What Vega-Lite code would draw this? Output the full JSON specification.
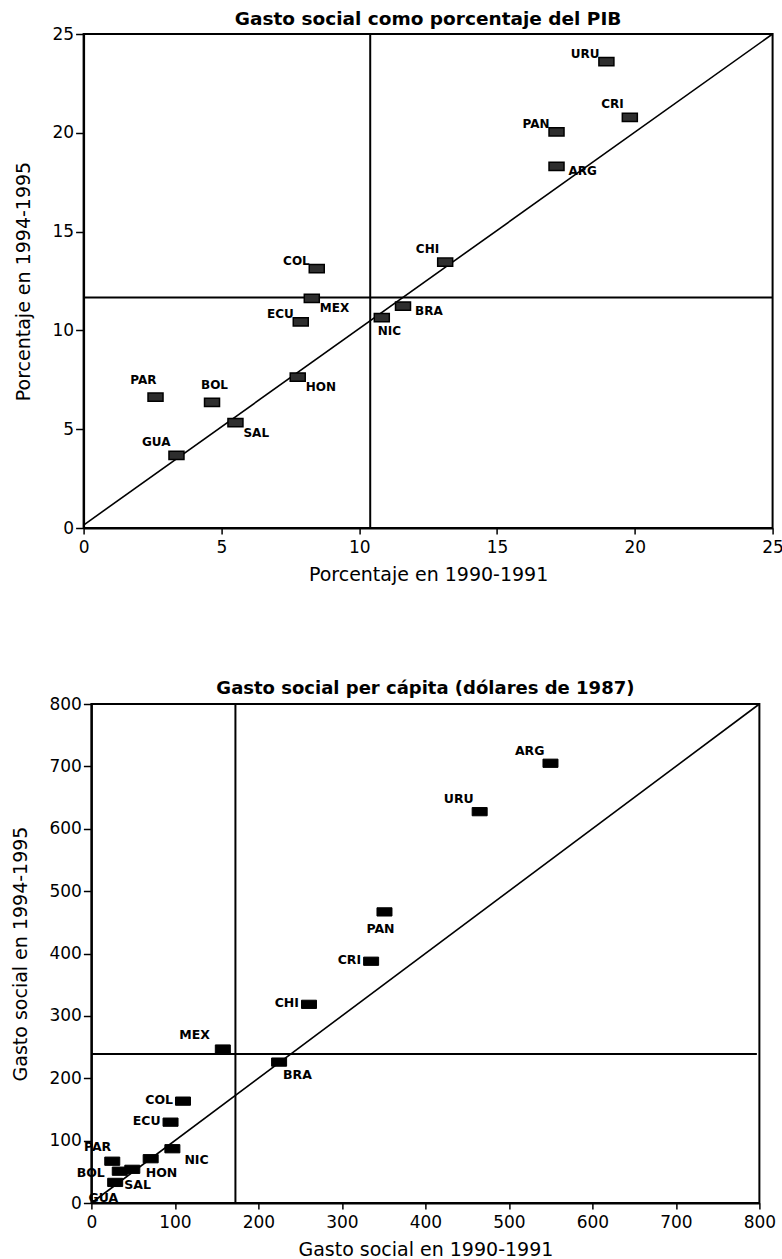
{
  "$schema": "https://vega.github.io/schema/vega-lite/v6.json",
  "padding": {"left": 10.5, "top": 8, "right": 5, "bottom": 5},
  "spacing": 94,
  "center": true,
  "datasets": {
    "top": [
      {"c": "URU", "x": 18.97, "y": 23.6},
      {"c": "CRI", "x": 19.82, "y": 20.78},
      {"c": "PAN", "x": 17.16, "y": 20.05},
      {"c": "ARG", "x": 17.16, "y": 18.3},
      {"c": "CHI", "x": 13.12, "y": 13.45},
      {"c": "COL", "x": 8.46, "y": 13.13},
      {"c": "MEX", "x": 8.28, "y": 11.62},
      {"c": "ECU", "x": 7.88, "y": 10.43},
      {"c": "NIC", "x": 10.82, "y": 10.65},
      {"c": "BRA", "x": 11.59, "y": 11.23},
      {"c": "HON", "x": 7.77, "y": 7.64},
      {"c": "PAR", "x": 2.61, "y": 6.62},
      {"c": "BOL", "x": 4.66, "y": 6.36},
      {"c": "SAL", "x": 5.51, "y": 5.33},
      {"c": "GUA", "x": 3.37, "y": 3.68}
    ],
    "bottom": [
      {"c": "ARG", "x": 549.8, "y": 705},
      {"c": "URU", "x": 465, "y": 627.4},
      {"c": "PAN", "x": 351, "y": 466.7},
      {"c": "CRI", "x": 335, "y": 387.6},
      {"c": "CHI", "x": 260.6, "y": 318.5},
      {"c": "MEX", "x": 157.4, "y": 246.8},
      {"c": "BRA", "x": 224.8, "y": 225.9},
      {"c": "COL", "x": 109.7, "y": 163.3},
      {"c": "ECU", "x": 94.8, "y": 129.6},
      {"c": "NIC", "x": 97, "y": 87},
      {"c": "HON", "x": 71, "y": 71},
      {"c": "PAR", "x": 25, "y": 67},
      {"c": "BOL", "x": 34, "y": 51},
      {"c": "SAL", "x": 49, "y": 54},
      {"c": "GUA", "x": 28.5, "y": 33}
    ]
  },
  "vconcat": [
    {
      "width": 689,
      "height": 494,
      "title": {"text": "Gasto social como porcentaje del PIB", "fontSize": 18.5},
      "layer": [
        {
          "data": {"values": [{"x": 10.4}]},
          "mark": {"type": "rule", "color": "black", "strokeWidth": 2},
          "encoding": {
            "x": {"field": "x", "type": "quantitative", "scale": {"domain": [0, 25], "nice": false}, "axis": {"values": [0, 5, 10, 15, 20, 25], "title": "Porcentaje en 1990-1991"}}
          }
        },
        {
          "data": {"values": [{"y": 11.66}]},
          "mark": {"type": "rule", "color": "black", "strokeWidth": 2},
          "encoding": {
            "y": {"field": "y", "type": "quantitative", "scale": {"domain": [0, 25], "nice": false}, "axis": {"values": [0, 5, 10, 15, 20, 25], "title": "Porcentaje en 1994-1995"}}
          }
        },
        {
          "data": {"values": [{"x": 0, "y": 0.15}, {"x": 25, "y": 25}]},
          "mark": {"type": "line", "color": "black", "strokeWidth": 1.6},
          "encoding": {
            "x": {"field": "x", "type": "quantitative", "scale": {"domain": [0, 25], "nice": false}, "axis": {"values": [0, 5, 10, 15, 20, 25], "title": "Porcentaje en 1990-1991"}},
            "y": {"field": "y", "type": "quantitative", "scale": {"domain": [0, 25], "nice": false}, "axis": {"values": [0, 5, 10, 15, 20, 25], "title": "Porcentaje en 1994-1995"}}
          }
        },
        {
          "data": {"name": "top"},
          "encoding": {
            "x": {"field": "x", "type": "quantitative", "scale": {"domain": [0, 25], "nice": false}, "axis": {"values": [0, 5, 10, 15, 20, 25], "title": "Porcentaje en 1990-1991"}},
            "y": {"field": "y", "type": "quantitative", "scale": {"domain": [0, 25], "nice": false}, "axis": {"values": [0, 5, 10, 15, 20, 25], "title": "Porcentaje en 1994-1995"}}
          },
          "layer": [
            {"mark": {"type": "point", "shape": "M-1,-0.55L1,-0.55L1,0.55L-1,0.55Z", "size": 225, "filled": true, "fill": "#2e2e2e", "stroke": "black", "strokeWidth": 1.5, "opacity": 1}},
            {"transform": [{"filter": {"field": "c", "oneOf": ["URU", "PAN", "COL", "ECU"]}}], "mark": {"type": "text", "align": "right", "baseline": "middle", "dx": -7, "dy": -8, "fontSize": 12, "fontWeight": "bold", "font": "DejaVu Sans", "color": "black"}, "encoding": {"text": {"field": "c"}}},
            {"transform": [{"filter": {"field": "c", "oneOf": ["CRI", "CHI", "GUA"]}}], "mark": {"type": "text", "align": "right", "baseline": "middle", "dx": -6, "dy": -13, "fontSize": 12, "fontWeight": "bold", "font": "DejaVu Sans", "color": "black"}, "encoding": {"text": {"field": "c"}}},
            {"transform": [{"filter": {"field": "c", "oneOf": ["ARG", "BRA"]}}], "mark": {"type": "text", "align": "left", "baseline": "middle", "dx": 12, "dy": 5, "fontSize": 12, "fontWeight": "bold", "font": "DejaVu Sans", "color": "black"}, "encoding": {"text": {"field": "c"}}},
            {"transform": [{"filter": {"field": "c", "oneOf": ["SAL", "HON", "MEX"]}}], "mark": {"type": "text", "align": "left", "baseline": "middle", "dx": 8, "dy": 10, "fontSize": 12, "fontWeight": "bold", "font": "DejaVu Sans", "color": "black"}, "encoding": {"text": {"field": "c"}}},
            {"transform": [{"filter": {"field": "c", "oneOf": ["NIC"]}}], "mark": {"type": "text", "align": "left", "baseline": "middle", "dx": -4, "dy": 13, "fontSize": 12, "fontWeight": "bold", "font": "DejaVu Sans", "color": "black"}, "encoding": {"text": {"field": "c"}}},
            {"transform": [{"filter": {"field": "c", "oneOf": ["PAR"]}}], "mark": {"type": "text", "align": "right", "baseline": "middle", "dx": 1, "dy": -17, "fontSize": 12, "fontWeight": "bold", "font": "DejaVu Sans", "color": "black"}, "encoding": {"text": {"field": "c"}}},
            {"transform": [{"filter": {"field": "c", "oneOf": ["BOL"]}}], "mark": {"type": "text", "align": "left", "baseline": "middle", "dx": -11, "dy": -17, "fontSize": 12, "fontWeight": "bold", "font": "DejaVu Sans", "color": "black"}, "encoding": {"text": {"field": "c"}}}
          ]
        }
      ]
    },
    {
      "width": 668,
      "height": 499,
      "title": {"text": "Gasto social per cápita (dólares de 1987)"},
      "layer": [
        {
          "data": {"values": [{"x": 172.5}]},
          "mark": {"type": "rule", "color": "black", "strokeWidth": 2},
          "encoding": {
            "x": {"field": "x", "type": "quantitative", "scale": {"domain": [0, 800], "nice": false}, "axis": {"values": [0, 100, 200, 300, 400, 500, 600, 700, 800], "title": "Gasto social en 1990-1991"}}
          }
        },
        {
          "data": {"values": [{"x": 0, "x2": 797, "y": 238.8}]},
          "mark": {"type": "rule", "color": "black", "strokeWidth": 2},
          "encoding": {
            "x": {"field": "x", "type": "quantitative", "scale": {"domain": [0, 800], "nice": false}, "axis": {"values": [0, 100, 200, 300, 400, 500, 600, 700, 800], "title": "Gasto social en 1990-1991"}},
            "x2": {"field": "x2"},
            "y": {"field": "y", "type": "quantitative", "scale": {"domain": [0, 800], "nice": false}, "axis": {"values": [0, 100, 200, 300, 400, 500, 600, 700, 800], "title": "Gasto social en 1994-1995"}}
          }
        },
        {
          "data": {"values": [{"x": 0, "y": 0}, {"x": 800, "y": 800}]},
          "mark": {"type": "line", "color": "black", "strokeWidth": 1.6},
          "encoding": {
            "x": {"field": "x", "type": "quantitative", "scale": {"domain": [0, 800], "nice": false}, "axis": {"values": [0, 100, 200, 300, 400, 500, 600, 700, 800], "title": "Gasto social en 1990-1991"}},
            "y": {"field": "y", "type": "quantitative", "scale": {"domain": [0, 800], "nice": false}, "axis": {"values": [0, 100, 200, 300, 400, 500, 600, 700, 800], "title": "Gasto social en 1994-1995"}}
          }
        },
        {
          "data": {"name": "bottom"},
          "encoding": {
            "x": {"field": "x", "type": "quantitative", "scale": {"domain": [0, 800], "nice": false}, "axis": {"values": [0, 100, 200, 300, 400, 500, 600, 700, 800], "title": "Gasto social en 1990-1991"}},
            "y": {"field": "y", "type": "quantitative", "scale": {"domain": [0, 800], "nice": false}, "axis": {"values": [0, 100, 200, 300, 400, 500, 600, 700, 800], "title": "Gasto social en 1994-1995"}}
          },
          "layer": [
            {"mark": {"type": "point", "shape": "M-1,-0.55L1,-0.55L1,0.55L-1,0.55Z", "size": 225, "filled": true, "fill": "black", "stroke": "black", "strokeWidth": 1, "opacity": 1}},
            {"transform": [{"filter": {"field": "c", "oneOf": ["CRI", "CHI", "COL", "ECU"]}}], "mark": {"type": "text", "align": "right", "baseline": "middle", "dx": -10, "dy": -1, "fontSize": 12.5, "fontWeight": "bold", "font": "DejaVu Sans", "color": "black"}, "encoding": {"text": {"field": "c"}}},
            {"transform": [{"filter": {"field": "c", "oneOf": ["ARG", "URU"]}}], "mark": {"type": "text", "align": "right", "baseline": "middle", "dx": -6, "dy": -12.5, "fontSize": 12.5, "fontWeight": "bold", "font": "DejaVu Sans", "color": "black"}, "encoding": {"text": {"field": "c"}}},
            {"transform": [{"filter": {"field": "c", "oneOf": ["MEX"]}}], "mark": {"type": "text", "align": "right", "baseline": "middle", "dx": -13, "dy": -14, "fontSize": 12.5, "fontWeight": "bold", "font": "DejaVu Sans", "color": "black"}, "encoding": {"text": {"field": "c"}}},
            {"transform": [{"filter": {"field": "c", "oneOf": ["PAR"]}}], "mark": {"type": "text", "align": "right", "baseline": "middle", "dx": -1, "dy": -14, "fontSize": 12.5, "fontWeight": "bold", "font": "DejaVu Sans", "color": "black"}, "encoding": {"text": {"field": "c"}}},
            {"transform": [{"filter": {"field": "c", "oneOf": ["PAN"]}}], "mark": {"type": "text", "align": "center", "baseline": "middle", "dx": -4, "dy": 17, "fontSize": 12.5, "fontWeight": "bold", "font": "DejaVu Sans", "color": "black"}, "encoding": {"text": {"field": "c"}}},
            {"transform": [{"filter": {"field": "c", "oneOf": ["BRA"]}}], "mark": {"type": "text", "align": "left", "baseline": "middle", "dx": 4, "dy": 13, "fontSize": 12.5, "fontWeight": "bold", "font": "DejaVu Sans", "color": "black"}, "encoding": {"text": {"field": "c"}}},
            {"transform": [{"filter": {"field": "c", "oneOf": ["NIC"]}}], "mark": {"type": "text", "align": "left", "baseline": "middle", "dx": 12, "dy": 11, "fontSize": 12.5, "fontWeight": "bold", "font": "DejaVu Sans", "color": "black"}, "encoding": {"text": {"field": "c"}}},
            {"transform": [{"filter": {"field": "c", "oneOf": ["BOL"]}}], "mark": {"type": "text", "align": "right", "baseline": "middle", "dx": -15, "dy": 2, "fontSize": 12.5, "fontWeight": "bold", "font": "DejaVu Sans", "color": "black"}, "encoding": {"text": {"field": "c"}}},
            {"transform": [{"filter": {"field": "c", "oneOf": ["HON"]}}], "mark": {"type": "text", "align": "left", "baseline": "middle", "dx": -5, "dy": 14, "fontSize": 12.5, "fontWeight": "bold", "font": "DejaVu Sans", "color": "black"}, "encoding": {"text": {"field": "c"}}},
            {"transform": [{"filter": {"field": "c", "oneOf": ["SAL"]}}], "mark": {"type": "text", "align": "left", "baseline": "middle", "dx": -8, "dy": 16, "fontSize": 12.5, "fontWeight": "bold", "font": "DejaVu Sans", "color": "black"}, "encoding": {"text": {"field": "c"}}},
            {"transform": [{"filter": {"field": "c", "oneOf": ["GUA"]}}], "mark": {"type": "text", "align": "right", "baseline": "middle", "dx": 3, "dy": 16, "fontSize": 12.5, "fontWeight": "bold", "font": "DejaVu Sans", "color": "black"}, "encoding": {"text": {"field": "c"}}}
          ]
        }
      ]
    }
  ],
  "config": {
    "background": "white",
    "view": {"stroke": "black", "strokeWidth": 2},
    "axis": {
      "domainColor": "black", "domainWidth": 2, "tickColor": "black", "tickWidth": 1.5, "grid": false,
      "labelFont": "DejaVu Sans", "labelFontSize": 17, "labelColor": "black", "labelFlush": false, "labelOverlap": false,
      "titleFont": "DejaVu Sans", "titleFontSize": 19, "titleFontWeight": "normal", "titleColor": "black"
    },
    "axisX": {"tickSize": 6, "labelPadding": 5, "titlePadding": 10},
    "axisY": {"tickSize": 8, "labelPadding": 2, "titlePadding": 18},
    "title": {"font": "DejaVu Sans", "fontSize": 18, "fontWeight": "bold", "color": "black", "offset": -3, "frame": "group"}
  }
}
